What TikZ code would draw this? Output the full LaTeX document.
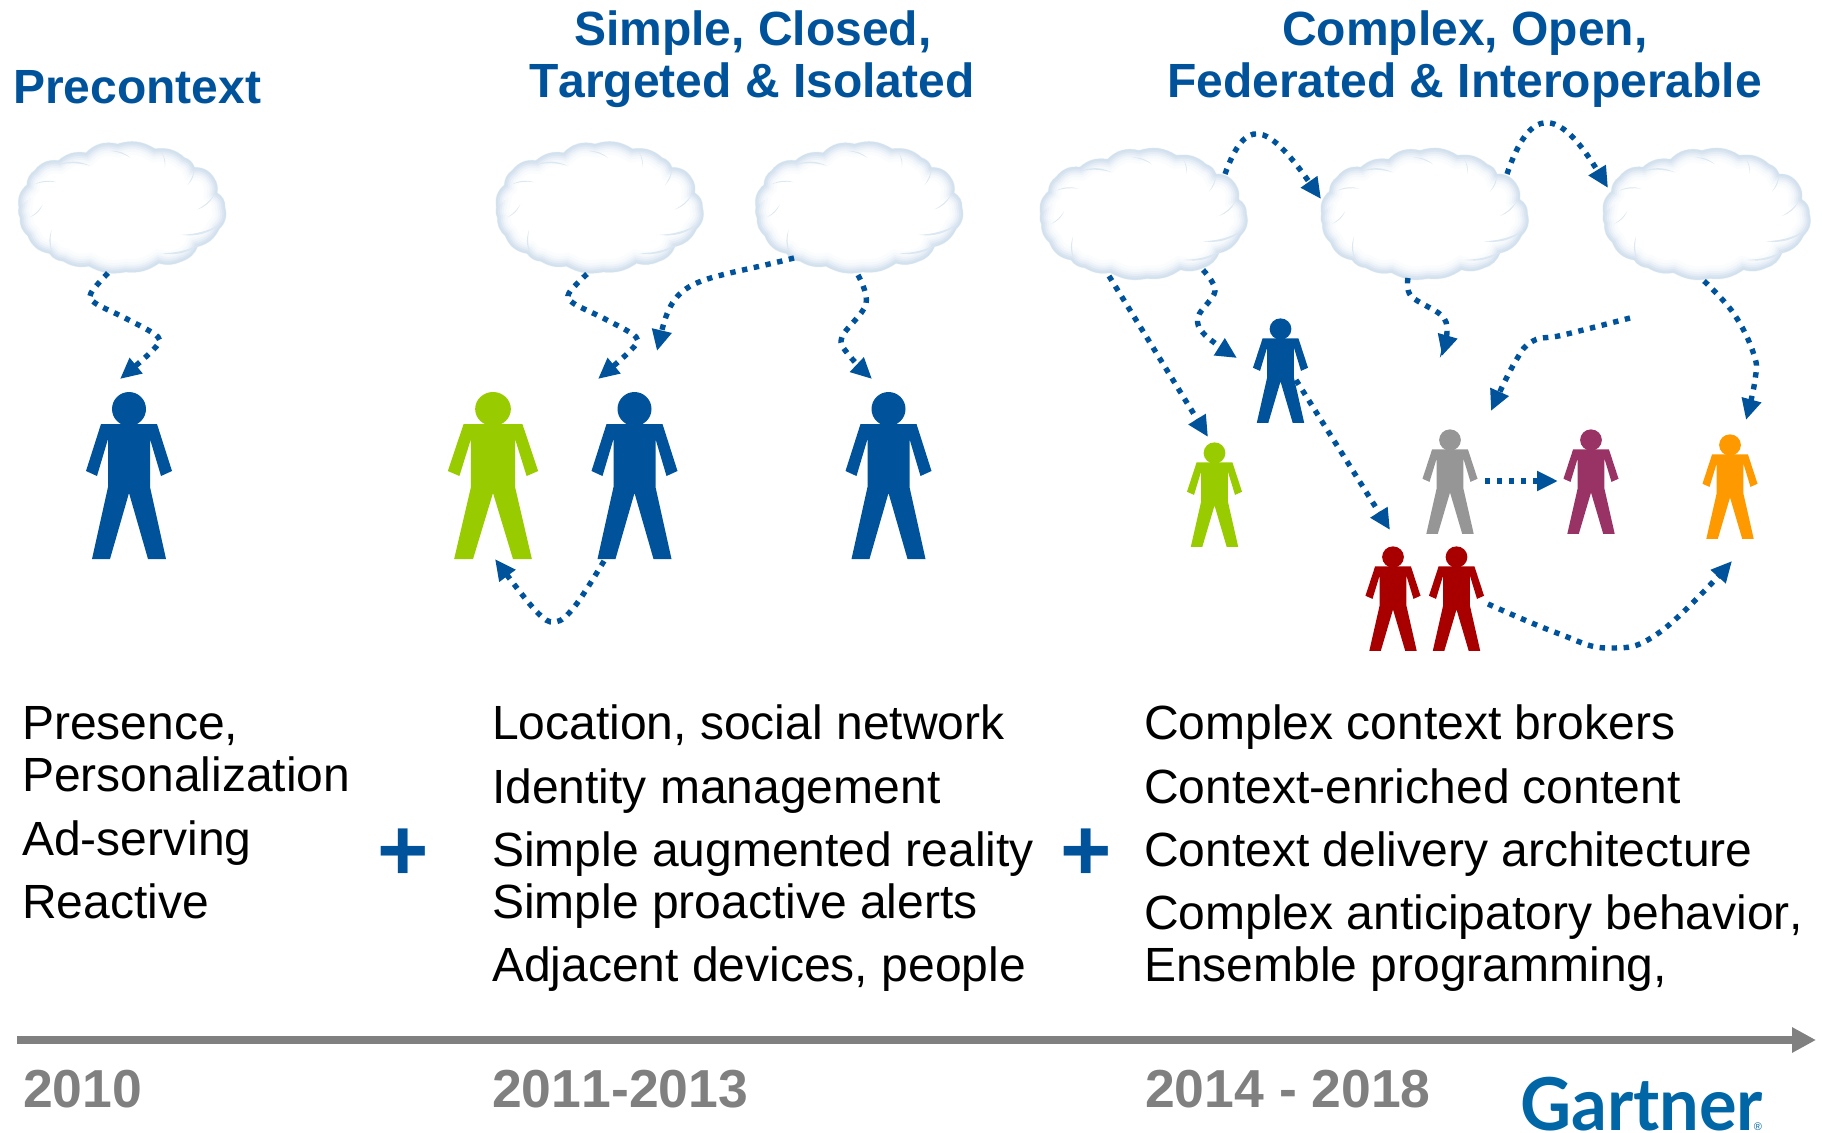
\documentclass[tikz,border=0pt]{standalone}
\usepackage{fontspec}
\setmainfont[Kerning=Off]{Liberation Sans}
\newfontfamily\logofont[FakeStretch=0.965]{Lato}
\usetikzlibrary{arrows.meta}
\definecolor{flowblue}{HTML}{00539B}
\definecolor{figgreen}{HTML}{99CC00}
\definecolor{figgray}{HTML}{969696}
\definecolor{figpurple}{HTML}{993366}
\definecolor{figorange}{HTML}{FF9900}
\definecolor{figred}{HTML}{A80000}
\definecolor{axisgray}{HTML}{808080}
\definecolor{logoblue}{HTML}{0066A6}
\definecolor{cedge}{HTML}{B7CEE4}
\newcommand{\cloudoutline}{(-104,-1) to[bend left=30] (-96,-24) to[bend left=25] (-88,-39) to[bend left=30] (-64,-49) to[bend left=25] (-36,-57) to[bend left=30] (-4,-66) to[bend left=25] (34,-61) to[bend left=25] (64,-52) to[bend left=25] (74,-42) to[bend left=30] (94,-31) to[bend left=20] (97,-16) to[bend left=30] (105,-1) to[bend left=30] (99,21) to[bend left=25] (77,39) to[bend left=25] (61,54) to[bend left=20] (38,56) to[bend left=20] (4,65) to[bend left=20] (-33,59) to[bend left=20] (-59,54) to[bend left=25] (-73,46) to[bend left=30] (-95,28) to[bend left=25] (-103,9) to[bend left=20] cycle}
\newcommand{\wisp}[2]{\fill[cedge!50] #1 to[bend left=22] #2 to[bend right=12] cycle;}
\tikzset{
  pics/cloud/.style={code={
    \draw[cedge!18,line width=1.5pt] \cloudoutline;
    \begin{scope}
      \clip \cloudoutline;
      \fill[white] (-110,-70) rectangle (110,70);
      \draw[cedge!5,line width=26pt] \cloudoutline;
      \draw[cedge!13,line width=20pt] \cloudoutline;
      \draw[cedge!24,line width=15pt] \cloudoutline;
      \draw[cedge!38,line width=11pt] \cloudoutline;
      \draw[cedge!52,line width=7pt] \cloudoutline;
      \draw[cedge!62,line width=3.5pt] \cloudoutline;
      \wisp{(-64,-45)}{(-32,-44)}
      \wisp{(-88,-25)}{(-66,-27)}
      \wisp{(-11,-59)}{(9,-52)}
      \wisp{(41,-57)}{(44,-42)}
      \wisp{(74,-41)}{(67,-24)}
      \wisp{(94,-14)}{(77,1)}
      \wisp{(101,16)}{(61,27)}
      \wisp{(81,36)}{(41,46)}
      \wisp{(-70,46)}{(-71,22)}
      \wisp{(-80,-4)}{(-93,9)}
    \end{scope}
  }},
  pics/person/.style={code={
    \fill[#1] (0,0) circle[radius=17];
    \fill[#1] (-28,15) -- (28,15) -- (43,62) -- (32,67) -- (21,30) -- (21,78) -- (37,150)
      -- (19,150) -- (0,84) -- (-19,150) -- (-37,150) -- (-21,78) -- (-21,30) -- (-32,67) -- (-43,62) -- cycle;
  }},
  flow/.style={draw=flowblue,line width=5.4pt,dash pattern=on 5.4pt off 6.6pt,
    -{Triangle[length=21pt,width=19pt,fill=flowblue]}},
  heading/.style={anchor=base west,inner sep=0,text=flowblue,font=\bfseries\fontsize{48}{48}\selectfont},
  body/.style={anchor=base west,inner sep=0,text=black,font=\fontsize{48}{48}\selectfont},
  year/.style={anchor=base west,inner sep=0,text=axisgray,font=\bfseries\fontsize{53.5}{54}\selectfont},
  plusmark/.style={inner sep=0,text=flowblue,font=\bfseries\fontsize{88}{88}\selectfont},
  small/.style={xscale=.64,yscale=.625},
  cloudsize/.style={xscale=.985,yscale=.975}
}
\begin{document}
\begin{tikzpicture}[x=1pt,y=-1pt]
\useasboundingbox (0,0) rectangle (1822,1132);

% headings
\node[heading] (h1) at (13,103) {Precontext};
\node[heading] (h2a) at (574,46) {Simple, Closed,};
\node[heading] (h2b) at (529,97) {Targeted \& Isolated};
\node[heading] (h3a) at (1282,46) {Complex, Open,};
\node[heading] (h3b) at (1167,97) {Federated \& Interoperable};

% clouds
\pic[cloudsize] (c1) at (121.5,208.5) {cloud};
\pic[cloudsize] (c2) at (599,208.5) {cloud};
\pic[cloudsize] (c3) at (858.5,208.5) {cloud};
\pic[cloudsize] (c4) at (1143,215) {cloud};
\pic[cloudsize] (c5) at (1424,215) {cloud};
\pic[cloudsize] (c6) at (1706,215) {cloud};

% people
\pic (p1) at (129,409) {person=flowblue};
\pic[xscale=1.05] (p2) at (493,409) {person=figgreen};
\pic (p3) at (634.5,409) {person=flowblue};
\pic (p4) at (888.5,409) {person=flowblue};
\pic[small] (p5) at (1280.5,329) {person=flowblue};
\pic[small] (p6) at (1214.5,453) {person=figgreen};
\pic[small] (p7) at (1450,440) {person=figgray};
\pic[small] (p8) at (1591,440) {person=figpurple};
\pic[small] (p9) at (1730,445) {person=figorange};
\pic[small] (p10) at (1393,557) {person=figred};
\pic[small] (p11) at (1456.5,557) {person=figred};

% connector ends
\coordinate (a1s) at (108,273); \coordinate (a1e) at (120,379);
\coordinate (a2s) at (587,274); \coordinate (a2e) at (598,379);
\coordinate (a3s) at (794,258); \coordinate (a3e) at (657,351);
\coordinate (a4s) at (858,275); \coordinate (a4e) at (872,379);
\coordinate (a5s) at (604,561); \coordinate (a5e) at (495,559);
\coordinate (b1s) at (1225,174); \coordinate (b1e) at (1321,199);
\coordinate (b2s) at (1507,174); \coordinate (b2e) at (1608,188);
\coordinate (b3s) at (1109,276); \coordinate (b3e) at (1208,437);
\coordinate (b4s) at (1203,270); \coordinate (b4e) at (1237,358);
\coordinate (b5s) at (1408,278); \coordinate (b5e) at (1442,356);
\coordinate (b6s) at (1630,318); \coordinate (b6e) at (1491,411);
\coordinate (b7s) at (1704,281); \coordinate (b7e) at (1746,420);
\coordinate (b8s) at (1296,380); \coordinate (b8e) at (1390,530);
\coordinate (b9s) at (1485,481); \coordinate (b9e) at (1558,481);
\coordinate (b10s) at (1488,604); \coordinate (b10e) at (1732,561);

% connectors
\draw[flow] plot[smooth,tension=.55] coordinates {(a1s) (91,293) (95,303) (127,319) (158,337) (153,350) (a1e)};
\draw[flow] plot[smooth,tension=.55] coordinates {(a2s) (569,293) (573,303) (605,319) (636,337) (631,350) (a2e)};
\draw[flow] (a3s) .. controls (700,282) and (675,275) .. (a3e);
\draw[flow] plot[smooth,tension=.6] coordinates {(a4s) (866,304) (842,337) (848,354) (a4e)};
\draw[flow] plot[smooth,tension=.6] coordinates {(a5s) (575,606) (555,622) (535,610) (a5e)};
\draw[flow] (b1s) .. controls (1245,119) and (1265,119) .. (b1e);
\draw[flow] (b2s) .. controls (1530,106) and (1558,106) .. (b2e);
\draw[flow] (b3s) -- (b3e);
\draw[flow] plot[smooth,tension=.6] coordinates {(b4s) (1215,291) (1198,317) (1205,335) (b4e)};
\draw[flow] plot[smooth,tension=.6] coordinates {(b5s) (1411,296) (1441,315) (1447,331) (b5e)};
\draw[flow] plot[smooth,tension=.7] coordinates {(b6s) (1563,335) (1533,341) (1515,362) (b6e)};
\draw[flow] plot[smooth,tension=.7] coordinates {(b7s) (1734,314) (1754,355) (1755,380) (b7e)};
\draw[flow] (b8s) -- (b8e);
\draw[flow] (b9s) -- (b9e);
\draw[flow] plot[smooth,tension=.7] coordinates {(b10s) (1557,633) (1609,648) (1660,632) (b10e)};

% body text
\node[body] (t1) at (22,739) {Presence,};
\node[body] (t2) at (22,791) {Personalization};
\node[body] (t3) at (22,855) {Ad-serving};
\node[body] (t4) at (22,918) {Reactive};
\node[body] (t5) at (492,739) {Location, social network};
\node[body] (t6) at (492,803) {Identity management};
\node[body] (t7) at (492,866) {Simple augmented reality};
\node[body] (t8) at (492,918) {Simple proactive alerts};
\node[body] (t9) at (492,981) {Adjacent devices, people};
\node[body] (t10) at (1144,739) {Complex context brokers};
\node[body] (t11) at (1144,803) {Context-enriched content};
\node[body] (t12) at (1144,866) {Context delivery architecture};
\node[body] (t13) at (1144,929) {Complex anticipatory behavior,};
\node[body] (t14) at (1144,981) {Ensemble programming,};

\node[plusmark] (plus1) at (403.5,855) {+};
\node[plusmark] (plus2) at (1086.5,855) {+};

% time axis
\coordinate (axs) at (17,1040);
\coordinate (axe) at (1816,1040);
\draw[axisgray,line width=8pt,-{Triangle[length=24pt,width=24pt]}] (axs) -- (axe);
\node[year] (y1) at (23,1107) {2010};
\node[year] (y2) at (492,1107) {2011-2013};
\node[year] (y3) at (1145,1107) {2014 - 2018};

% logo
\node[anchor=base west,inner sep=0,text=logoblue,font=\logofont\bfseries\fontsize{73}{73}\selectfont] (logo) at (1520,1130) {Gartner};
\node[anchor=center,inner sep=0,text=logoblue,font=\fontsize{11}{11}\selectfont] (reg) at (1758,1127) {®};
\end{tikzpicture}
\end{document}
